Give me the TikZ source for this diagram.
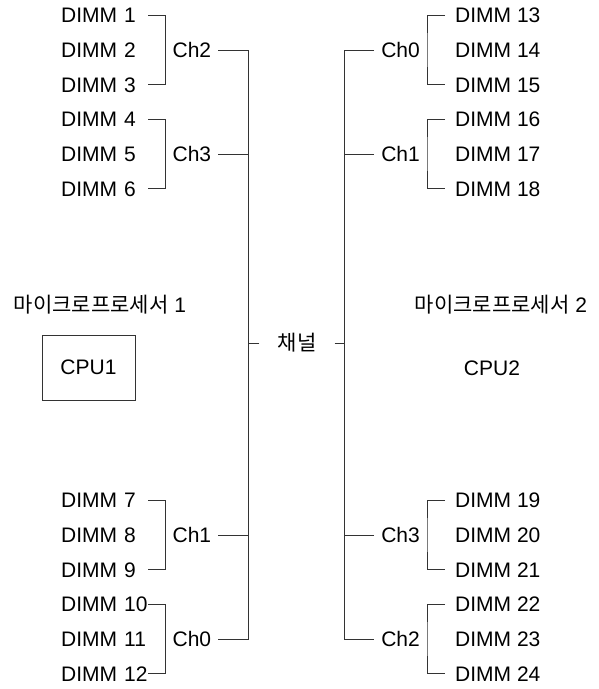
\documentclass[tikz,border=0pt]{standalone}
\usepackage{fontspec}
\setmainfont{Liberation Sans}
\newfontfamily\krfont{Noto Sans CJK KR}
\usetikzlibrary{positioning}

\begin{document}
\begin{tikzpicture}[
    x=1pt, y=-1pt,
    node distance=19.5pt,
    lbl/.style={font=\fontsize{21}{25}\selectfont, text height=15pt, text depth=0pt},
    dimml/.style={lbl, inner sep=0pt, text width=87pt, align=left, anchor=west},
    dimmr/.style={lbl, inner ysep=0pt, inner xsep=10pt, anchor=west},
    chl/.style={lbl, inner ysep=0pt, inner xsep=7pt},
    krlbl/.style={font=\fontsize{21}{25}\selectfont, inner sep=0pt},
    cpubox/.style={draw=black!80, line width=0.8pt, minimum width=93pt, minimum height=65pt,
                   font=\fontsize{21}{25}\selectfont},
    wire/.style={draw=black!80, line width=0.8pt},
  ]
    \useasboundingbox (0,0) rectangle (599,689);

    % left DIMMs
    \node[dimml] (d1) at (61,15) {DIMM 1};
    \node[dimml, below=of d1] (d2) {DIMM 2};
    \node[dimml, below=of d2] (d3) {DIMM 3};
    \node[dimml] (d4) at (61,119) {DIMM 4};
    \node[dimml, below=of d4] (d5) {DIMM 5};
    \node[dimml, below=of d5] (d6) {DIMM 6};
    \node[dimml] (d7) at (61,500) {DIMM 7};
    \node[dimml, below=of d7] (d8) {DIMM 8};
    \node[dimml, below=of d8] (d9) {DIMM 9};
    \node[dimml] (d10) at (61,604) {DIMM 10};
    \node[dimml, below=of d10] (d11) {DIMM 11};
    \node[dimml, below=of d11] (d12) {DIMM 12};

    % right DIMMs
    \node[dimmr] (d13) at (445,15) {DIMM 13};
    \node[dimmr, below=of d13] (d14) {DIMM 14};
    \node[dimmr, below=of d14] (d15) {DIMM 15};
    \node[dimmr] (d16) at (445,119) {DIMM 16};
    \node[dimmr, below=of d16] (d17) {DIMM 17};
    \node[dimmr, below=of d17] (d18) {DIMM 18};
    \node[dimmr] (d19) at (445,500) {DIMM 19};
    \node[dimmr, below=of d19] (d20) {DIMM 20};
    \node[dimmr, below=of d20] (d21) {DIMM 21};
    \node[dimmr] (d22) at (445,604) {DIMM 22};
    \node[dimmr, below=of d22] (d23) {DIMM 23};
    \node[dimmr, below=of d23] (d24) {DIMM 24};

    % channels
    \node[chl, right=17pt of d2]  (ch2L) {Ch2};
    \node[chl, right=17pt of d5]  (ch3L) {Ch3};
    \node[chl, right=17pt of d8]  (ch1L) {Ch1};
    \node[chl, right=17pt of d11] (ch0L) {Ch0};
    \node[chl, left=18pt of d14]  (ch0R) {Ch0};
    \node[chl, left=18pt of d17]  (ch1R) {Ch1};
    \node[chl, left=18pt of d20]  (ch3R) {Ch3};
    \node[chl, left=18pt of d23]  (ch2R) {Ch2};

    % processors
    \node[krlbl] (mp1) at (100,305) {{\krfont 마이크로프로세서} 1};
    \node[krlbl] (mp2) at (501,305) {{\krfont 마이크로프로세서} 2};
    \node[cpubox] (cpu1) at (88.5,367.5) {CPU1};
    \node[lbl] (cpu2) at (492,368) {CPU2};
    \node[krlbl, inner xsep=18pt] (chan) at (297,343) {\krfont 채널};

    \coordinate (busL) at (248,0);
    \coordinate (busR) at (344,0);

    % brackets
    \draw[wire] (d1.east) -| (ch2L.west) |- (d3.east);
    \draw[wire] (d4.east) -| (ch3L.west) |- (d6.east);
    \draw[wire] (d7.east) -| (ch1L.west) |- (d9.east);
    \draw[wire] (d10.east) -| (ch0L.west) |- (d12.east);
    \draw[wire] (d13.west) -| (ch0R.east) |- (d15.west);
    \draw[wire] (d16.west) -| (ch1R.east) |- (d18.west);
    \draw[wire] (d19.west) -| (ch3R.east) |- (d21.west);
    \draw[wire] (d22.west) -| (ch2R.east) |- (d24.west);

    % buses
    \draw[wire] (ch2L.east) -| (busL |- ch0L.east) -- (ch0L.east);
    \draw[wire] (ch3L.east) -- (ch3L.east -| busL);
    \draw[wire] (ch1L.east) -- (ch1L.east -| busL);
    \draw[wire] (ch0R.west) -| (busR |- ch2R.west) -- (ch2R.west);
    \draw[wire] (ch1R.west) -- (ch1R.west -| busR);
    \draw[wire] (ch3R.west) -- (ch3R.west -| busR);
    \draw[wire] (chan.west) -- (chan.west -| busL);
    \draw[wire] (chan.east) -- (chan.east -| busR);
\end{tikzpicture}
\end{document}
